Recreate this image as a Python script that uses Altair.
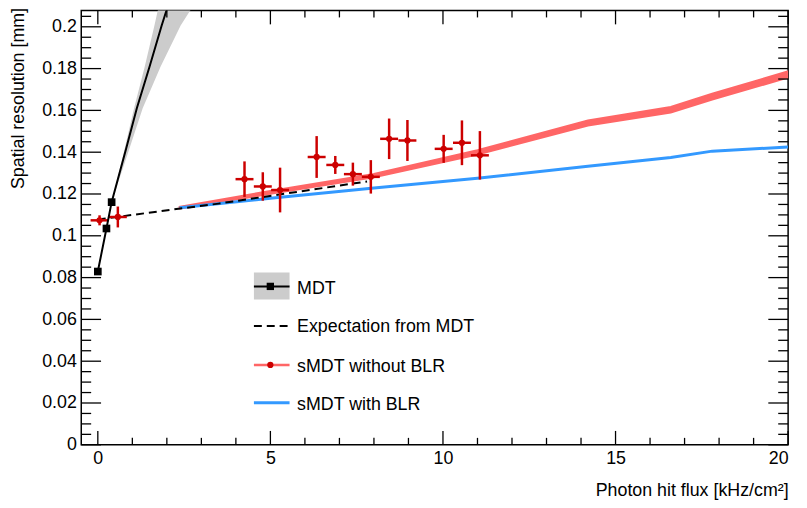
import altair as alt
import pandas as pd

# ---------------- data ----------------
# MDT measured points
mdt_x = [0.0, 0.25, 0.4]
mdt_y = [0.0829, 0.1035, 0.1161]
# MDT extrapolated curve (continues above the frame)
mdt_curve_x = [0.4, 0.8, 1.13, 1.5, 1.85, 2.05, 2.12]
mdt_curve_y = [0.1161, 0.1405, 0.161, 0.181, 0.2006, 0.211, 0.215]
# MDT uncertainty band (given as x-range for each resolution value)
band_y = [0.1161, 0.1405, 0.161, 0.181, 0.2006, 0.211, 0.215]
band_lo = [0.40, 0.76, 1.05, 1.36, 1.64, 1.78, 1.83]
band_hi = [0.40, 0.89, 1.30, 1.82, 2.40, 2.80, 2.95]
# Expectation from MDT (dashed)
exp_x = [0.0, 2.1, 3.5, 7.8]
exp_y = [0.1078, 0.1124, 0.1154, 0.126]
# sMDT without BLR (simulation band: centre and half-width)
red_x = [2.37, 5.0, 8.0, 11.0, 14.2, 16.6, 17.8, 20.0]
red_y = [0.1134, 0.1208, 0.1288, 0.1399, 0.154, 0.1603, 0.1666, 0.1772]
red_err = [0.0004, 0.0007, 0.0008, 0.0010, 0.0012, 0.0013, 0.0014, 0.0015]
# sMDT with BLR (simulation curve)
blue_x = [2.37, 5.0, 8.0, 11.0, 14.2, 16.6, 17.8, 20.0]
blue_y = [0.1134, 0.118, 0.1229, 0.1275, 0.1333, 0.1375, 0.1405, 0.1425]
# sMDT without BLR measurements
pts_x = [0.05, 0.58, 4.25, 4.78, 5.28, 6.34, 6.88, 7.39, 7.91, 8.44, 8.97, 10.02, 10.55, 11.07]
pts_y = [0.1074, 0.109, 0.1271, 0.1236, 0.1219, 0.1377, 0.1339, 0.1295, 0.1282,
         0.1464, 0.1456, 0.1416, 0.1445, 0.1385]
pts_ey = [0.0024, 0.005, 0.0085, 0.0068, 0.0107, 0.01, 0.0043, 0.0055, 0.008,
          0.0097, 0.0098, 0.0067, 0.0107, 0.0116]
pts_ex = [0.26] * 14

x_major = [0, 5, 10, 15, 20]
x_minor = [1, 2, 3, 4, 6, 7, 8, 9, 11, 12, 13, 14, 16, 17, 18, 19]
y_major = [0, 0.02, 0.04, 0.06, 0.08, 0.1, 0.12, 0.14, 0.16, 0.18, 0.2]
y_minor = [round(0.005 * i, 3) for i in range(1, 42) if i % 4 != 0]

legend_labels = ["MDT", "Expectation from MDT", "sMDT without BLR", "sMDT with BLR"]
x_title = "Photon hit flux [kHz/cm²]"
y_title = "Spatial resolution [mm]"

# ---------------- layout ----------------
W, H = 714, 438.7
FONT = "Liberation Sans"
RED_LINE = "#ff6666"
BLUE_LINE = "#3399ff"
RED_PT = "#cc0000"

xs = alt.Scale(domain=[-0.48, 20], nice=False, zero=False)
ys = alt.Scale(domain=[0, 0.2078], nice=False, zero=False)
xaxis = alt.Axis(values=x_major, format="d", title=x_title, ticks=False, domain=False,
                 grid=False, labelPadding=5, titleX=W, titleY=46, titleAlign="right",
                 titleAnchor="end", titleBaseline="middle")
yaxis = alt.Axis(values=y_major, format=".2~f", title=y_title, ticks=False, domain=False,
                 grid=False, labelPadding=5, titleX=-63, titleY=-3, titleAlign="right",
                 titleAnchor="end", titleBaseline="middle", titleAngle=270)


def X(f):
    return alt.X(f, type="quantitative", scale=xs, axis=xaxis)


def Y(f):
    return alt.Y(f, type="quantitative", scale=ys, axis=yaxis)


band_df = pd.DataFrame({"y": band_y, "lo": band_lo, "hi": band_hi})
band = alt.Chart(band_df).mark_area(orient="horizontal", color="#cccccc", clip=True).encode(
    y=Y("y"), x=X("lo"), x2="hi")

mdt_line_all = pd.DataFrame({"x": mdt_x + mdt_curve_x[1:], "y": mdt_y + mdt_curve_y[1:]})
mdt_line = alt.Chart(mdt_line_all).mark_line(color="black", strokeWidth=2, clip=True).encode(
    x=X("x"), y=Y("y"), order="x:Q")
mdt_pts = alt.Chart(pd.DataFrame({"x": mdt_x, "y": mdt_y})).mark_square(
    color="black", size=60, opacity=1).encode(x=X("x"), y=Y("y"))

exp_line = alt.Chart(pd.DataFrame({"x": exp_x, "y": exp_y})).mark_line(
    color="black", strokeWidth=2, strokeDash=[8, 5]).encode(x=X("x"), y=Y("y"))

red_df = pd.DataFrame({"x": red_x, "y": red_y, "e": red_err})
red_df["lo"] = red_df["y"] - red_df["e"]
red_df["hi"] = red_df["y"] + red_df["e"]
red_band = alt.Chart(red_df).mark_area(color=RED_LINE, opacity=1, clip=True,
                                       stroke=RED_LINE, strokeWidth=2).encode(
    x=X("x"), y=Y("lo"), y2="hi")
blue_line = alt.Chart(pd.DataFrame({"x": blue_x, "y": blue_y})).mark_line(
    color=BLUE_LINE, strokeWidth=3, clip=True).encode(x=X("x"), y=Y("y"))

pts_df = pd.DataFrame({"x": pts_x, "y": pts_y, "ey": pts_ey, "ex": pts_ex})
pts_df["ylo"] = pts_df["y"] - pts_df["ey"]
pts_df["yhi"] = pts_df["y"] + pts_df["ey"]
pts_df["xlo"] = pts_df["x"] - pts_df["ex"]
pts_df["xhi"] = pts_df["x"] + pts_df["ex"]
pts_base = alt.Chart(pts_df)
err_v = pts_base.mark_rule(color=RED_PT, strokeWidth=2.5).encode(x=X("x"), y=Y("ylo"), y2="yhi")
err_h = pts_base.mark_rule(color=RED_PT, strokeWidth=2.5).encode(y=Y("y"), x=X("xlo"), x2="xhi")
pts = pts_base.mark_circle(color=RED_PT, size=40, opacity=1).encode(x=X("x"), y=Y("y"))

# ---------------- inward ticks on all four sides ----------------
TK = dict(color="black", strokeWidth=1.3)
xmaj = alt.Chart(pd.DataFrame({"v": x_major}))
xmin = alt.Chart(pd.DataFrame({"v": x_minor}))
ymaj = alt.Chart(pd.DataFrame({"v": y_major}))
ymin = alt.Chart(pd.DataFrame({"v": y_minor}))
ticks = [
    xmaj.mark_rule(**TK).encode(x=X("v"), y=alt.value(H), y2=alt.value(H - 14)),
    xmaj.mark_rule(**TK).encode(x=X("v"), y=alt.value(0), y2=alt.value(14)),
    xmin.mark_rule(**TK).encode(x=X("v"), y=alt.value(H), y2=alt.value(H - 7)),
    xmin.mark_rule(**TK).encode(x=X("v"), y=alt.value(0), y2=alt.value(7)),
    ymaj.mark_rule(**TK).encode(y=Y("v"), x=alt.value(0), x2=alt.value(20)),
    ymaj.mark_rule(**TK).encode(y=Y("v"), x=alt.value(W), x2=alt.value(W - 20)),
    ymin.mark_rule(**TK).encode(y=Y("v"), x=alt.value(0), x2=alt.value(10)),
    ymin.mark_rule(**TK).encode(y=Y("v"), x=alt.value(W), x2=alt.value(W - 10)),
]

# ---------------- legend ----------------
one = alt.Chart(pd.DataFrame({"k": [0]}))
LX1, LX2, LXM, LTX = 174.4, 210.4, 191, 218
leg = [
    one.mark_rect(color="#cccccc").encode(x=alt.value(LX1), x2=alt.value(LX2),
                                          y=alt.value(264.7), y2=alt.value(292)),
    one.mark_rule(color="black", strokeWidth=2).encode(x=alt.value(LX1), x2=alt.value(LX2),
                                                       y=alt.value(278.7)),
    one.mark_square(color="black", size=55, opacity=1).encode(x=alt.value(LXM), y=alt.value(278.7)),
    one.mark_rule(color="black", strokeWidth=2, strokeDash=[8, 5]).encode(
        x=alt.value(LX1), x2=alt.value(LX2), y=alt.value(318.7)),
    one.mark_rule(color=RED_LINE, strokeWidth=2.5).encode(x=alt.value(LX1), x2=alt.value(LX2),
                                                          y=alt.value(358)),
    one.mark_circle(color=RED_PT, size=40, opacity=1).encode(x=alt.value(LXM), y=alt.value(358)),
    one.mark_rule(color=BLUE_LINE, strokeWidth=3).encode(x=alt.value(LX1), x2=alt.value(LX2),
                                                         y=alt.value(396.3)),
]
for lab, ty in zip(legend_labels, [281, 320, 360, 398.5]):
    leg.append(alt.Chart(pd.DataFrame({"t": [lab]})).mark_text(
        align="left", baseline="middle", font=FONT, fontSize=18, color="black").encode(
        text="t:N", x=alt.value(LTX), y=alt.value(ty)))

chart = alt.layer(
    band, red_band, blue_line, exp_line, err_v, err_h, pts, mdt_line, mdt_pts, *ticks, *leg
).properties(
    width=W, height=H,
    autosize=alt.AutoSizeParams(type="none"),
    padding={"left": 74, "top": 0, "right": 11, "bottom": 60},
).configure_view(
    stroke="black", strokeWidth=1.5
).configure_axis(
    labelFont=FONT, titleFont=FONT, labelFontSize=18, titleFontSize=18,
    titleFontWeight="normal", labelColor="black", titleColor="black"
)

chart.save("out.html", embed_options={"renderer": "svg", "actions": False})
